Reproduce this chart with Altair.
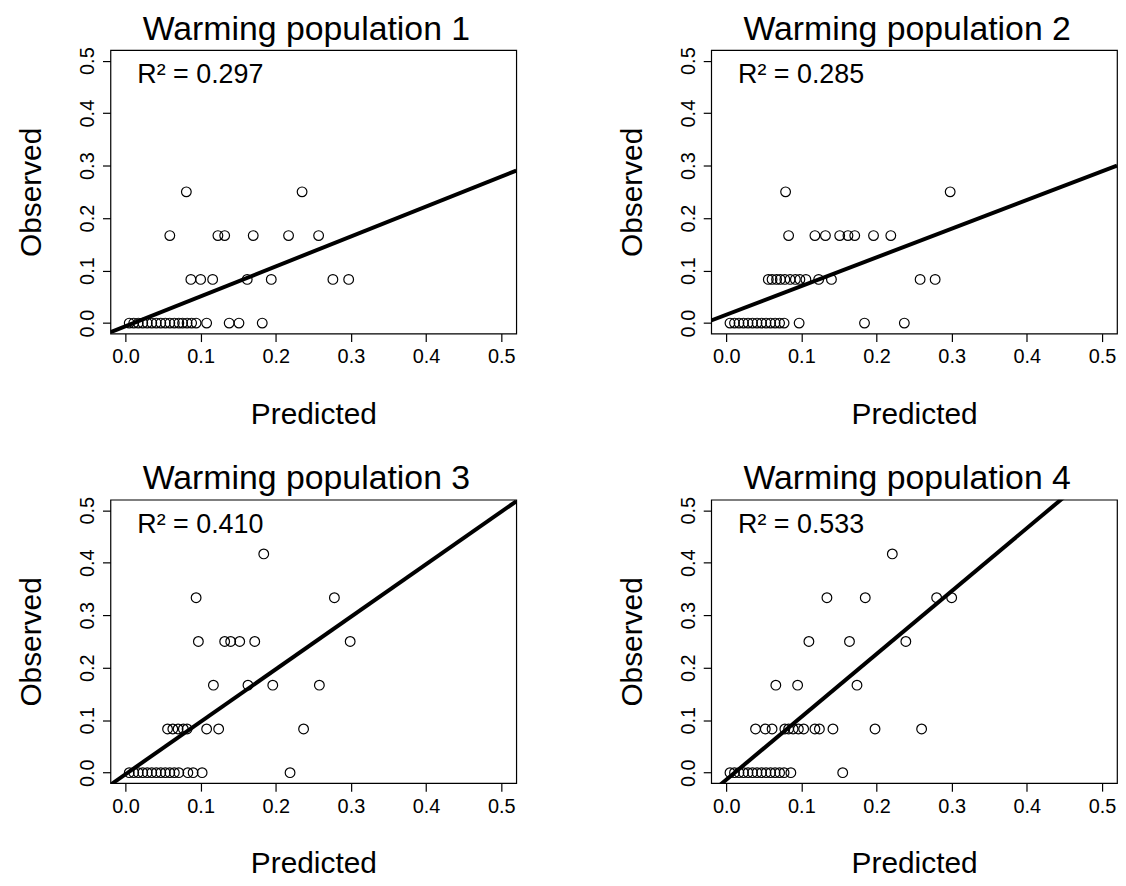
import altair as alt
import pandas as pd

FONT = "Liberation Sans"

TITLES = ["Warming population 1", "Warming population 2",
          "Warming population 3", "Warming population 4"]
R2_LABELS = ["R\u00b2 = 0.297", "R\u00b2 = 0.285", "R\u00b2 = 0.410", "R\u00b2 = 0.533"]

# fitted line coefficients (intercept, slope)
INTERCEPTS = [-0.006, 0.016, -0.003, -0.0135]
SLOPES = [0.57, 0.546, 1.0, 1.198]

# ---- population 1 ----
P1_PRED = [0.005, 0.011, 0.017, 0.023, 0.029, 0.035, 0.041, 0.047, 0.053, 0.059,
           0.065, 0.071, 0.076, 0.082, 0.088, 0.094, 0.108, 0.138, 0.151, 0.182,
           0.087, 0.100, 0.116, 0.162, 0.194, 0.276, 0.297,
           0.059, 0.123, 0.132, 0.170, 0.217, 0.257,
           0.081, 0.235]
P1_OBS = [0.0] * 20 + [0.0833] * 7 + [0.1667] * 6 + [0.25] * 2

# ---- population 2 ----
P2_PRED = [0.005, 0.011, 0.017, 0.023, 0.029, 0.035, 0.041, 0.047, 0.053, 0.059,
           0.065, 0.071, 0.077, 0.097, 0.184, 0.237,
           0.056, 0.061, 0.067, 0.072, 0.078, 0.085, 0.092, 0.098, 0.106, 0.123,
           0.140, 0.258, 0.278,
           0.083, 0.118, 0.132, 0.151, 0.162, 0.171, 0.196, 0.219,
           0.079, 0.298]
P2_OBS = [0.0] * 16 + [0.0833] * 13 + [0.1667] * 8 + [0.25] * 2

# ---- population 3 ----
P3_PRED = [0.005, 0.011, 0.017, 0.023, 0.029, 0.035, 0.041, 0.047, 0.053, 0.059,
           0.065, 0.071, 0.083, 0.090, 0.102, 0.219,
           0.056, 0.063, 0.070, 0.077, 0.082, 0.108, 0.124, 0.237,
           0.117, 0.163, 0.196, 0.258,
           0.097, 0.132, 0.140, 0.152, 0.172, 0.299,
           0.094, 0.278,
           0.184]
P3_OBS = ([0.0] * 16 + [0.0833] * 8 + [0.1667] * 4 + [0.25] * 6
          + [0.3333] * 2 + [0.4167] * 1)

# ---- population 4 ----
P4_PRED = [0.005, 0.011, 0.017, 0.023, 0.029, 0.035, 0.041, 0.047, 0.053, 0.059,
           0.065, 0.071, 0.077, 0.086, 0.155,
           0.039, 0.052, 0.061, 0.078, 0.083, 0.089, 0.096, 0.103, 0.118, 0.124,
           0.142, 0.198, 0.260,
           0.066, 0.095, 0.174,
           0.110, 0.164, 0.239,
           0.134, 0.185, 0.280, 0.300,
           0.221]
P4_OBS = ([0.0] * 15 + [0.0833] * 13 + [0.1667] * 3 + [0.25] * 3
          + [0.3333] * 4 + [0.4167] * 1)

PREDS = [P1_PRED, P2_PRED, P3_PRED, P4_PRED]
OBSS = [P1_OBS, P2_OBS, P3_OBS, P4_OBS]

DOMAIN = [-0.02, 0.52]
TICKS = [0.0, 0.1, 0.2, 0.3, 0.4, 0.5]
W, H = 408, 285


def panel(i):
    pts = pd.DataFrame({"Predicted": PREDS[i], "Observed": OBSS[i]})
    xs = DOMAIN
    line_df = pd.DataFrame({"Predicted": xs,
                            "Observed": [INTERCEPTS[i] + SLOPES[i] * x for x in xs]})
    xenc = alt.X("Predicted:Q", scale=alt.Scale(domain=DOMAIN, nice=False, zero=False),
                 axis=alt.Axis(values=TICKS, format=".1f", title="Predicted",
                               titlePadding=33))
    yenc = alt.Y("Observed:Q", scale=alt.Scale(domain=DOMAIN, nice=False, zero=False),
                 axis=alt.Axis(values=TICKS, format=".1f", title="Observed",
                               labelAngle=-90, titlePadding=31))
    line = alt.Chart(line_df).mark_line(color="black", strokeWidth=4, clip=True).encode(
        x=xenc, y=yenc)
    points = alt.Chart(pts).mark_point(shape="circle", filled=False, color="black",
                                       size=95, strokeWidth=1.2, opacity=1).encode(
        x="Predicted:Q", y="Observed:Q")
    label = alt.Chart(pd.DataFrame({"t": [R2_LABELS[i]]})).mark_text(
        align="left", baseline="alphabetic", fontSize=27, font=FONT, color="black").encode(
        text="t:N", x=alt.value(27), y=alt.value(33))
    return alt.layer(line, points, label).properties(
        width=W, height=H,
        title=alt.TitleParams(TITLES[i], fontSize=34, font=FONT, fontWeight="normal",
                              anchor="middle", offset=0, dx=-7, color="black"))


chart = alt.vconcat(
    alt.hconcat(panel(0), panel(1), spacing=100),
    alt.hconcat(panel(2), panel(3), spacing=100),
    spacing=32,
).configure_view(stroke="black", strokeWidth=1.2).configure_axis(
    domain=False, grid=False, ticks=True, tickSize=8, tickColor="black", tickWidth=1.2,
    labelFont=FONT, labelFontSize=20, labelColor="black", labelPadding=5,
    titleFont=FONT, titleFontSize=30, titleFontWeight="normal", titleColor="black",
).properties(padding={"left": 8, "top": 2, "right": 0, "bottom": 0}, background="white")

chart.save("out.html", embed_options={"renderer": "svg", "actions": False})
